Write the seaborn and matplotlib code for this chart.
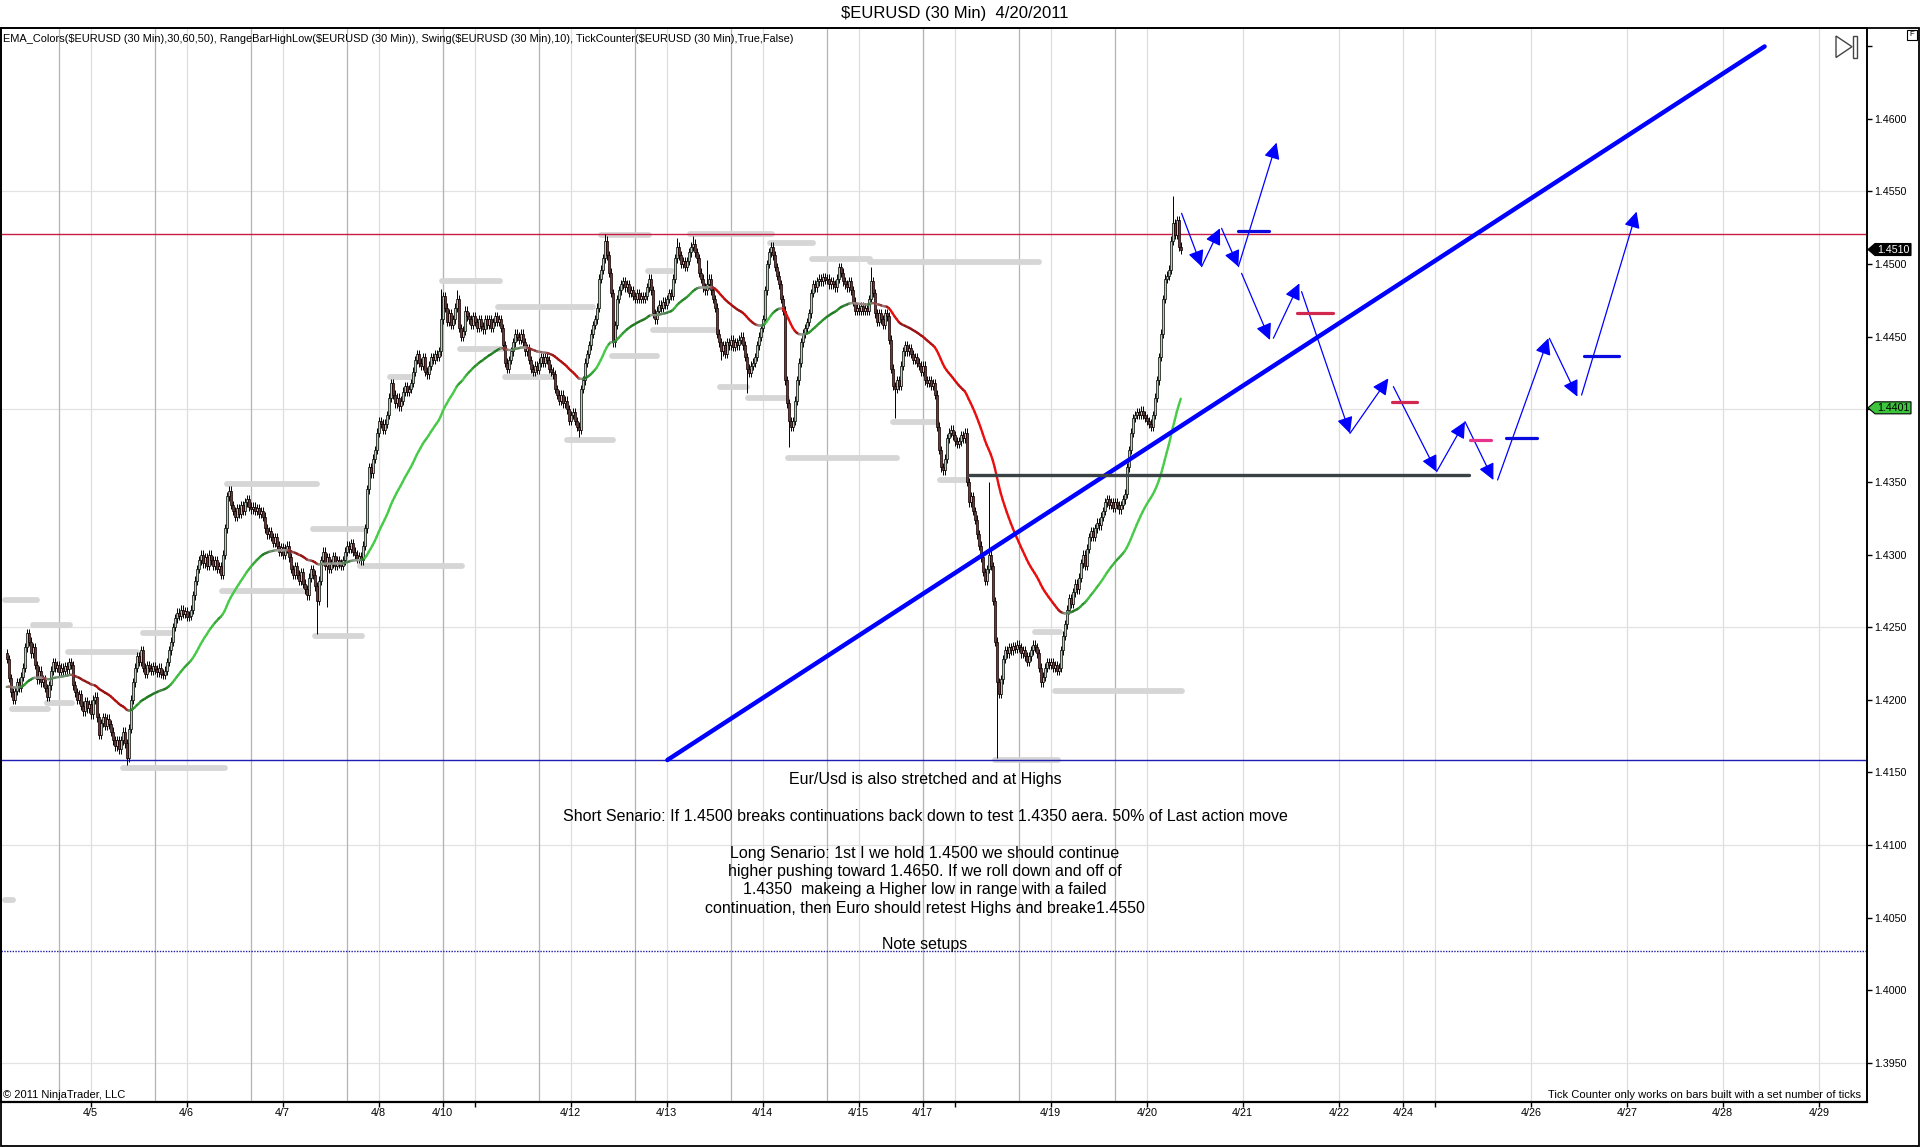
import numpy as np
import pandas as pd
import matplotlib
matplotlib.use("Agg")
import matplotlib.pyplot as plt
import seaborn as sns
from matplotlib.collections import LineCollection
from matplotlib.patches import Polygon, Rectangle

# ---- data ----
# 30 min closes, pips above 1.4000 (bar 0 = Mon 4/4 03:00)
close_pips = [
    228, 215, 205, 200, 206, 212, 208, 216, 222, 236,
    246, 240, 232, 236, 224, 214, 220, 212, 214, 208,
    202, 210, 220, 226, 222, 224, 219, 222, 220, 223,
    221, 226, 224, 210, 205, 200, 204, 196, 192, 199,
    194, 197, 190, 200, 202, 188, 176, 184, 188, 182,
    187, 183, 178, 172, 168, 172, 166, 172, 178, 170,
    160, 180, 200, 212, 222, 230, 226, 234, 222, 218,
    224, 222, 220, 223, 221, 219, 222, 218, 217, 220,
    226, 234, 240, 250, 256, 260, 258, 262, 259, 261,
    257, 258, 262, 272, 282, 290, 296, 300, 294, 298,
    292, 300, 296, 292, 296, 290, 292, 286, 300, 318,
    340, 344, 334, 330, 326, 332, 328, 334, 330, 336,
    338, 333, 331, 333, 330, 332, 328, 330, 326, 318,
    314, 316, 312, 308, 312, 306, 302, 305, 300, 304,
    306, 298, 290, 286, 292, 286, 282, 288, 280, 276,
    272, 284, 290, 286, 278, 268, 282, 296, 302, 292,
    298, 290, 294, 299, 292, 296, 294, 292, 296, 302,
    306, 304, 308, 302, 300, 297, 299, 296, 306, 318,
    345, 360, 356, 366, 372, 384, 392, 390, 386, 390,
    396, 408, 418, 410, 404, 408, 402, 406, 412, 416,
    412, 414, 418, 426, 434, 438, 432, 430, 436, 426,
    424, 430, 436, 434, 438, 436, 440, 462, 478, 470,
    460, 466, 458, 462, 470, 476, 456, 450, 454, 468,
    464, 462, 458, 464, 460, 456, 462, 457, 455, 462,
    458, 462, 456, 460, 464, 460, 462, 456, 444, 432,
    428, 434, 440, 446, 452, 450, 448, 452, 446, 440,
    442, 434, 428, 426, 430, 427, 432, 436, 432, 436,
    434, 428, 426, 424, 414, 410, 406, 410, 404, 406,
    400, 392, 396, 398, 392, 388, 386, 414, 420, 432,
    438, 444, 452, 458, 462, 470, 490, 496, 504, 516,
    506, 494, 480, 446, 458, 476, 482, 486, 488, 484,
    486, 480, 482, 478, 476, 480, 476, 478, 476, 478,
    484, 490, 482, 466, 462, 468, 472, 470, 474, 472,
    476, 480, 478, 490, 504, 512, 506, 500, 502, 498,
    502, 508, 512, 514, 508, 504, 494, 490, 484, 482,
    486, 490, 482, 476, 470, 452, 446, 440, 444, 438,
    446, 444, 448, 443, 446, 444, 448, 450, 444, 436,
    428, 425, 430, 432, 436, 444, 450, 456, 462, 482,
    500, 508, 512, 506, 498, 492, 486, 476, 468, 420,
    404, 392, 388, 392, 406, 420, 432, 446, 452, 456,
    460, 466, 480, 486, 484, 488, 490, 488, 491, 489,
    490, 486, 488, 486, 484, 490, 498, 494, 488, 486,
    484, 488, 482, 474, 468, 470, 468, 471, 468, 470,
    468, 476, 488, 480, 466, 460, 466, 462, 458, 466,
    464, 448, 428, 416, 414, 420, 416, 430, 440, 444,
    440, 442, 438, 434, 436, 432, 430, 426, 430, 420,
    418, 420, 416, 418, 410, 388, 372, 360, 358, 366,
    380, 384, 386, 382, 378, 376, 378, 382, 380, 384,
    350, 336, 340, 330, 324, 314, 306, 298, 288, 282,
    290, 300, 292, 268, 240, 212, 204, 214, 228, 234,
    232, 236, 234, 237, 235, 238, 236, 232, 234, 230,
    226, 230, 234, 238, 236, 232, 222, 212, 216, 222,
    226, 224, 226, 222, 224, 220, 222, 234, 244, 252,
    262, 270, 266, 274, 280, 276, 284, 294, 300, 292,
    304, 312, 316, 312, 318, 322, 320, 326, 330, 336,
    338, 334, 336, 332, 336, 334, 331, 334, 338, 342,
    360, 372, 384, 394, 396, 398, 396, 399, 396, 394,
    392, 390, 388, 396, 408, 420, 436, 452, 476, 490,
    492, 496, 516, 528, 520, 530, 512, 510,
]
first_open_pip = 232
ema_seed_pip = 208
# long wicks that stand out (bar: pips)
high_marks = {217: 483, 225: 482, 299: 521, 335: 518, 343: 519, 350: 503,
              432: 498, 491: 350, 583: 547}
low_marks = {60: 155, 155: 245, 160: 264, 286: 381, 357: 434, 370: 411,
             391: 374, 444: 394, 495: 160}

# swing / range-bar levels: (from bar, to bar, price)
swing_levels = [
    (-0.9, 15, 1.42685), (13.3, 31.6, 1.42513), (30.8, 65, 1.42330),
    (2.5, 20.8, 1.41935), (20, 32.5, 1.41980), (58.3, 109, 1.41530),
    (68.3, 82.5, 1.42460), (110, 155, 1.43484), (107.5, 149, 1.42750),
    (153.3, 179, 1.43174), (154, 177.5, 1.42440), (176.6, 227.4, 1.42920),
    (191.6, 203.3, 1.44220), (217.4, 246.6, 1.44880), (226.6, 248.3, 1.44415),
    (245.8, 293.3, 1.44707), (249, 273.3, 1.44220), (280, 303.3, 1.43790),
    (302.4, 325, 1.44370), (297, 321, 1.45200), (320.8, 332.4, 1.44950),
    (323.3, 354, 1.44546), (341.6, 382.4, 1.45210), (356.6, 370, 1.44150),
    (370.8, 390, 1.44080), (381.6, 403.3, 1.45148), (390.8, 445, 1.43667),
    (402.4, 431.6, 1.45035), (431.6, 516, 1.45013), (443.3, 465, 1.43915),
    (466.6, 480, 1.43510), (514, 526.6, 1.42466), (524, 587.4, 1.42058),
    (494, 525.8, 1.41584), (-1, 3, 1.40618),
]

resistance_price = 1.45207
support_price = 1.41585
lower_price = 1.40267
trend_bars = [330.3, 878.9]
trend_prices = [1.41585, 1.46498]
base_bars = [481.3, 731.1]
base_price = 1.43547

# drawn forecast arrows: (from bar, from price, to bar, to price)
forecast_arrows = [
    (587.4, 1.45349, 597.4, 1.44982), (597.4, 1.44982, 606.6, 1.45246),
    (607.4, 1.45246, 615.8, 1.44982), (615.8, 1.44982, 634.9, 1.45836),
    (617.4, 1.44936, 631.6, 1.44477), (633.3, 1.44489, 646.3, 1.44867),
    (647.4, 1.44810, 671.6, 1.43834), (671.6, 1.43834, 690.8, 1.44213),
    (693.3, 1.44156, 714.9, 1.43570), (714.9, 1.43570, 729.1, 1.43915),
    (729.1, 1.43915, 743.3, 1.43513), (745.4, 1.43513, 770.8, 1.44489),
    (771.3, 1.44489, 785.3, 1.44087), (787.4, 1.44098, 814.9, 1.45361),
]
# short level marks: (from bar, to bar, price, kind)
forecast_marks = [
    (615.4, 631.3, 1.45227, "long"), (645.3, 663.3, 1.44661, "short"),
    (692.4, 705.3, 1.44052, "short"), (731.6, 742.1, 1.43786, "pivot"),
    (749.4, 764.9, 1.43800, "long"), (788.6, 806.1, 1.44365, "long"),
]
last_price_label = 1.4510
ema_label = 1.4401

annotation_lines = [
    "Eur/Usd is also stretched and at Highs",
    "",
    "Short Senario: If 1.4500 breaks continuations back down to test 1.4350 aera. 50% of Last action move",
    "",
    "Long Senario: 1st I we hold 1.4500 we should continue",
    "higher pushing toward 1.4650. If we roll down and off of",
    "1.4350  makeing a Higher low in range with a failed",
    "continuation, then Euro should retest Highs and breake1.4550",
    "",
    "Note setups",
]

# ---- timeline: forex session Sun 16:00 -> Fri 16:00, 30 min bars ----
X0, X1 = -2.87, 930.1
Y0, Y1 = 1.392326, 1.466286

times = []
t = pd.Timestamp("2011-04-04 03:00")
while len(times) < 940:
    wd = t.weekday()
    closed = wd == 5 or (wd == 4 and t.hour >= 16) or (wd == 6 and t.hour < 16)
    if not closed:
        times.append(t)
    t += pd.Timedelta(minutes=30)

n = len(close_pips)
date_ticks, date_labels = [], []
last_labeled = -100
for i in range(1, len(times)):
    if i > X1:
        break
    if times[i].date() != times[i - 1].date():
        date_ticks.append(i)
        if i - last_labeled >= 20:
            date_labels.append(f"{times[i].month}/{times[i].day}")
            last_labeled = i
        else:
            date_labels.append("")
session_lines = [i for i in range(n - 2) if times[i].hour == 16 and times[i].minute == 0]

closes = 1.4 + np.array(close_pips) / 1e4
opens = np.r_[1.4 + first_open_pip / 1e4, closes[:-1]]
highs = np.maximum(opens, closes) + 0.0003
lows = np.minimum(opens, closes) - 0.0003
for b, v in high_marks.items():
    highs[b] = max(highs[b], 1.4 + v / 1e4)
for b, v in low_marks.items():
    lows[b] = min(lows[b], 1.4 + v / 1e4)
bars = np.arange(n)

ema = pd.Series(np.r_[1.4 + ema_seed_pip / 1e4, closes]).ewm(span=48, adjust=False).mean().to_numpy()[1:]

# ---- figure ----
sns.set_theme(style="white")
plt.rcParams["font.family"] = ["Liberation Sans", "DejaVu Sans"]

W, H = 1920, 1147
def fx(px): return px / W
def fy(py): return 1 - py / H

AX_L, AX_R, AX_T, AX_B = fx(1), fx(1867), fy(27.5), fy(1101.7)
AX_H = AX_T - AX_B

fig = plt.figure(figsize=(W / 100, H / 100), dpi=100)
fig.patch.set_facecolor("white")
ax = fig.add_axes([AX_L, AX_B, AX_R - AX_L, AX_H])
ax.set_facecolor("white")

# grid
for p in np.arange(1.3950, 1.4651, 0.015):
    ax.axhline(p, color="#e2e2e2", lw=0.9, zorder=0.5)
for b in date_ticks:
    ax.axvline(b, color="#dedede", lw=0.9, zorder=0.5)
for b in session_lines:
    ax.axvline(b, color="#b4b4b4", lw=0.9, zorder=0.6)

# horizontal levels
ax.axhline(resistance_price, color="#c81e46", lw=1.0, zorder=2)
ax.axhline(support_price, color="#1e1eb4", lw=1.0, zorder=2)
ax.axhline(lower_price, color="#1e1ea0", lw=1.0, ls=(0, (1, 1)), zorder=2)

# swing levels
for b0, b1, p in swing_levels:
    ax.plot([b0, b1], [p, p], color="#d6d6d6", lw=4.2, solid_capstyle="round", zorder=1.5)

# candles
up = closes >= opens
ax.vlines(bars, lows, highs, color="black", lw=0.7, zorder=3)
body_lo = np.minimum(opens, closes)
body_h = np.maximum(np.abs(closes - opens), 0.00003)
ax.bar(bars[up], body_h[up], bottom=body_lo[up], width=0.78, color="#a9dba9",
       edgecolor="black", linewidth=0.5, zorder=3.2)
ax.bar(bars[~up], body_h[~up], bottom=body_lo[~up], width=0.78, color="#b01c1c",
       edgecolor="black", linewidth=0.5, zorder=3.2)

# colored EMA
slope = np.diff(ema) * 1e4
gray = np.array([0.62, 0.62, 0.62])
cols = []
for d in slope:
    tt = min(abs(d) / 2.0, 1.0)
    if d < 0:
        dark, bright = np.array([0.55, 0.08, 0.08]), np.array([0.93, 0.05, 0.05])
    else:
        dark, bright = np.array([0.12, 0.45, 0.12]), np.array([0.28, 0.80, 0.28])
    if tt < 0.35:
        c = gray + (dark - gray) * (tt / 0.35)
    else:
        c = dark + (bright - dark) * ((tt - 0.35) / 0.65)
    cols.append(c)
segs = [[(i, ema[i]), (i + 1, ema[i + 1])] for i in range(n - 1)]
ax.add_collection(LineCollection(segs, colors=cols, linewidths=1.7, capstyle="round", zorder=4))

# drawing objects
sns.lineplot(x=trend_bars, y=trend_prices, ax=ax, color="#0000ff", lw=3.2, zorder=5, legend=False)
ax.plot(base_bars, [base_price, base_price], color="#3a4246", lw=2.4, zorder=5)

for b0, p0, b1, p1 in forecast_arrows:
    ax.annotate("", xy=(b1, p1), xytext=(b0, p0),
                arrowprops=dict(arrowstyle="-|>,head_length=0.45,head_width=0.22", color="#0000ff",
                                lw=0.9, shrinkA=0, shrinkB=0, mutation_scale=22), zorder=6)
mark_colors = {"long": "#0a0ae0", "short": "#d0284e", "pivot": "#e6348c"}
for b0, b1, p, kind in forecast_marks:
    ax.plot([b0, b1], [p, p], color=mark_colors[kind], lw=2.3, zorder=6)

# annotation
step = 0.001262
for k, line in enumerate(annotation_lines):
    if line:
        ax.text(459.1, 1.41448 - k * step, line, ha="center", va="center",
                fontsize=11.5, color="black", zorder=7)

# axes styling
for s in ax.spines.values():
    s.set_color("black")
    s.set_linewidth(1.2)
ax.spines["bottom"].set_linewidth(1.6)
ax.spines["right"].set_linewidth(1.4)
ax.yaxis.tick_right()
yt = np.round(np.arange(1.3950, 1.46501, 0.005), 4)
ax.set_yticks(yt)
ax.set_yticklabels([f"{v:.4f}" if v < 1.4649 else "" for v in yt])
ax.set_xticks(date_ticks)
ax.set_xticklabels(date_labels)
ax.tick_params(axis="y", direction="out", length=3.6, width=1, pad=1.5, labelsize=7.7,
               colors="black", right=True, left=False)
ax.tick_params(axis="x", direction="out", length=3.6, width=1, pad=1.2, labelsize=7.8,
               colors="black", bottom=True)
ax.grid(False)
ax.set_xlim(X0, X1)
ax.set_ylim(Y0, Y1)

# outer frame
fig.add_artist(Rectangle((fx(0.5), fy(1146.3)), fx(1918.8), AX_T - fy(1146.3),
                         transform=fig.transFigure, fill=False, ec="black", lw=1.3, zorder=9))

# price tags on the axis
def price_tag(price, text, face, txt_color):
    yc = AX_B + (price - Y0) / (Y1 - Y0) * AX_H
    hh = 6 / H
    pts = [(fx(1868), yc), (fx(1875), yc + hh), (fx(1911), yc + hh),
           (fx(1911), yc - hh), (fx(1875), yc - hh)]
    fig.add_artist(Polygon(pts, closed=True, transform=fig.transFigure, fc=face,
                           ec="black", lw=0.8, zorder=10))
    fig.text(fx(1893), yc, text, ha="center", va="center", fontsize=7.7, color=txt_color, zorder=11)

price_tag(last_price_label, f"{last_price_label:.4f}", "black", "white")
price_tag(ema_label, f"{ema_label:.4f}", "#3cc43c", "black")

# little toolbar glyphs
fig.add_artist(Polygon([(fx(1836), fy(36)), (fx(1836), fy(57.5)), (fx(1852), fy(46.7))],
                       closed=True, transform=fig.transFigure, fill=False, ec="#444444", lw=1.0, zorder=10))
fig.add_artist(Rectangle((fx(1853), fy(57.5)), fx(4), 21.5 / H, transform=fig.transFigure,
                         fill=False, ec="#444444", lw=1.0, zorder=10))
fig.add_artist(Rectangle((fx(1907), fy(40)), fx(10), 10 / H, transform=fig.transFigure,
                         fill=False, ec="black", lw=0.8, zorder=10))
fig.text(fx(1912), fy(35), "F", ha="center", va="center", fontsize=5.5, color="black")

# texts
fig.text(fx(955), fy(13.5), r"\$EURUSD (30 Min)  4/20/2011", ha="center", va="center",
         fontsize=12, color="black")
fig.text(fx(3), fy(39.3),
         r"EMA_Colors(\$EURUSD (30 Min),30,60,50), RangeBarHighLow(\$EURUSD (30 Min)), "
         r"Swing(\$EURUSD (30 Min),10), TickCounter(\$EURUSD (30 Min),True,False)",
         ha="left", va="center", fontsize=7.95, color="black")
fig.text(fx(3), fy(1095), "\u00a9 2011 NinjaTrader, LLC", ha="left", va="center",
         fontsize=8.0, color="black")
fig.text(fx(1861), fy(1095), "Tick Counter only works on bars built with a set number of ticks",
         ha="right", va="center", fontsize=8.0, color="black")

fig.savefig("out.png", dpi=100, facecolor="white")
